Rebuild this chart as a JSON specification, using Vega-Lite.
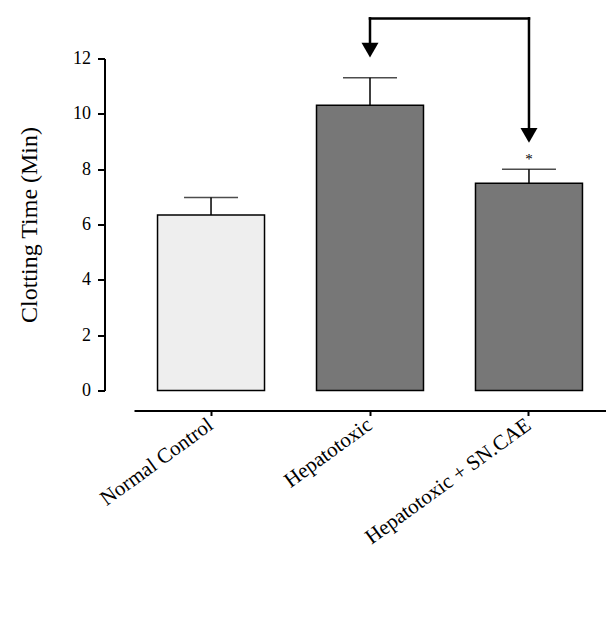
{
  "$schema": "https://vega.github.io/schema/vega-lite/v6.json",
  "autosize": {"type": "none"},
  "padding": {"left": 134, "top": 58.5, "right": 0, "bottom": 230.5},
  "width": 472,
  "height": 332,
  "background": "white",
  "config": {"view": {"stroke": null}, "font": "Liberation Serif"},
  "datasets": {
    "bars": [
      {"group": "Normal Control", "mean": 6.34, "upper": 6.98},
      {"group": "Hepatotoxic", "mean": 10.31, "upper": 11.3},
      {"group": "Hepatotoxic + SN.CAE", "mean": 7.49, "upper": 8.0}
    ],
    "hline": [
      {"from": "Hepatotoxic", "to": "Hepatotoxic + SN.CAE", "level": 13.45}
    ],
    "vlines": [
      {"group": "Hepatotoxic", "top": 13.45, "bottom": 12.56},
      {"group": "Hepatotoxic + SN.CAE", "top": 13.45, "bottom": 9.5}
    ],
    "heads": [
      {"group": "Hepatotoxic", "y": 12.3},
      {"group": "Hepatotoxic + SN.CAE", "y": 9.22}
    ],
    "stars": [
      {"group": "Hepatotoxic + SN.CAE", "y": 8.37, "label": "*"}
    ]
  },
  "layer": [
    {
      "data": {"name": "bars"},
      "mark": {"type": "bar", "stroke": "black", "strokeWidth": 1.5},
      "encoding": {
        "x": {
          "field": "group", "type": "nominal", "sort": null, "title": null,
          "scale": {"paddingInner": 0.327, "paddingOuter": 0.148},
          "axis": {
            "offset": 20, "domainColor": "black", "domainWidth": 2,
            "tickColor": "black", "tickWidth": 2, "tickSize": 5,
            "labelAngle": -36, "labelAlign": "right", "labelBaseline": "middle",
            "labelFontSize": 21, "labelColor": "black", "labelPadding": 7,
            "labelLimit": 400
          }
        },
        "y": {
          "field": "mean", "type": "quantitative", "title": "Clotting Time (Min)",
          "scale": {"domain": [0, 12], "nice": false},
          "axis": {
            "offset": 29.5, "grid": false, "values": [0, 2, 4, 6, 8, 10, 12],
            "domainColor": "black", "domainWidth": 2,
            "tickColor": "black", "tickWidth": 2, "tickSize": 7,
            "labelFontSize": 18, "labelColor": "black", "labelPadding": 7,
            "titleFontSize": 24, "titleFontWeight": "normal", "titleColor": "black",
            "titlePadding": 31
          }
        },
        "color": {
          "field": "group", "type": "nominal", "legend": null,
          "scale": {
            "domain": ["Normal Control", "Hepatotoxic", "Hepatotoxic + SN.CAE"],
            "range": ["#eeeeee", "#777777", "#777777"]
          }
        }
      }
    },
    {
      "data": {"name": "bars"},
      "mark": {"type": "rule", "color": "black", "strokeWidth": 1.5},
      "encoding": {
        "x": {"field": "group", "type": "nominal", "sort": null, "title": null},
        "y": {"field": "mean", "type": "quantitative", "title": "Clotting Time (Min)", "scale": {"domain": [0, 12], "nice": false}},
        "y2": {"field": "upper"}
      }
    },
    {
      "data": {"name": "bars"},
      "mark": {"type": "tick", "color": "black", "thickness": 1.5, "size": 54},
      "encoding": {
        "x": {"field": "group", "type": "nominal", "sort": null, "title": null},
        "y": {"field": "upper", "type": "quantitative", "title": "Clotting Time (Min)", "scale": {"domain": [0, 12], "nice": false}}
      }
    },
    {
      "data": {"name": "hline"},
      "mark": {"type": "rule", "color": "black", "strokeWidth": 2.5, "strokeCap": "square"},
      "encoding": {
        "x": {"field": "from", "type": "nominal", "sort": null, "title": null},
        "x2": {"field": "to"},
        "y": {"field": "level", "type": "quantitative", "title": "Clotting Time (Min)", "scale": {"domain": [0, 12], "nice": false}}
      }
    },
    {
      "data": {"name": "vlines"},
      "mark": {"type": "rule", "color": "black", "strokeWidth": 2.5, "strokeCap": "square"},
      "encoding": {
        "x": {"field": "group", "type": "nominal", "sort": null, "title": null},
        "y": {"field": "top", "type": "quantitative", "title": "Clotting Time (Min)", "scale": {"domain": [0, 12], "nice": false}},
        "y2": {"field": "bottom"}
      }
    },
    {
      "data": {"name": "heads"},
      "mark": {"type": "point", "shape": "triangle-down", "filled": true, "size": 289, "color": "black", "opacity": 1},
      "encoding": {
        "x": {"field": "group", "type": "nominal", "sort": null, "title": null},
        "y": {"field": "y", "type": "quantitative", "title": "Clotting Time (Min)", "scale": {"domain": [0, 12], "nice": false}}
      }
    },
    {
      "data": {"name": "stars"},
      "mark": {"type": "text", "fontSize": 15, "color": "black", "baseline": "middle", "align": "center"},
      "encoding": {
        "x": {"field": "group", "type": "nominal", "sort": null, "title": null},
        "y": {"field": "y", "type": "quantitative", "title": "Clotting Time (Min)", "scale": {"domain": [0, 12], "nice": false}},
        "text": {"field": "label"}
      }
    }
  ]
}
